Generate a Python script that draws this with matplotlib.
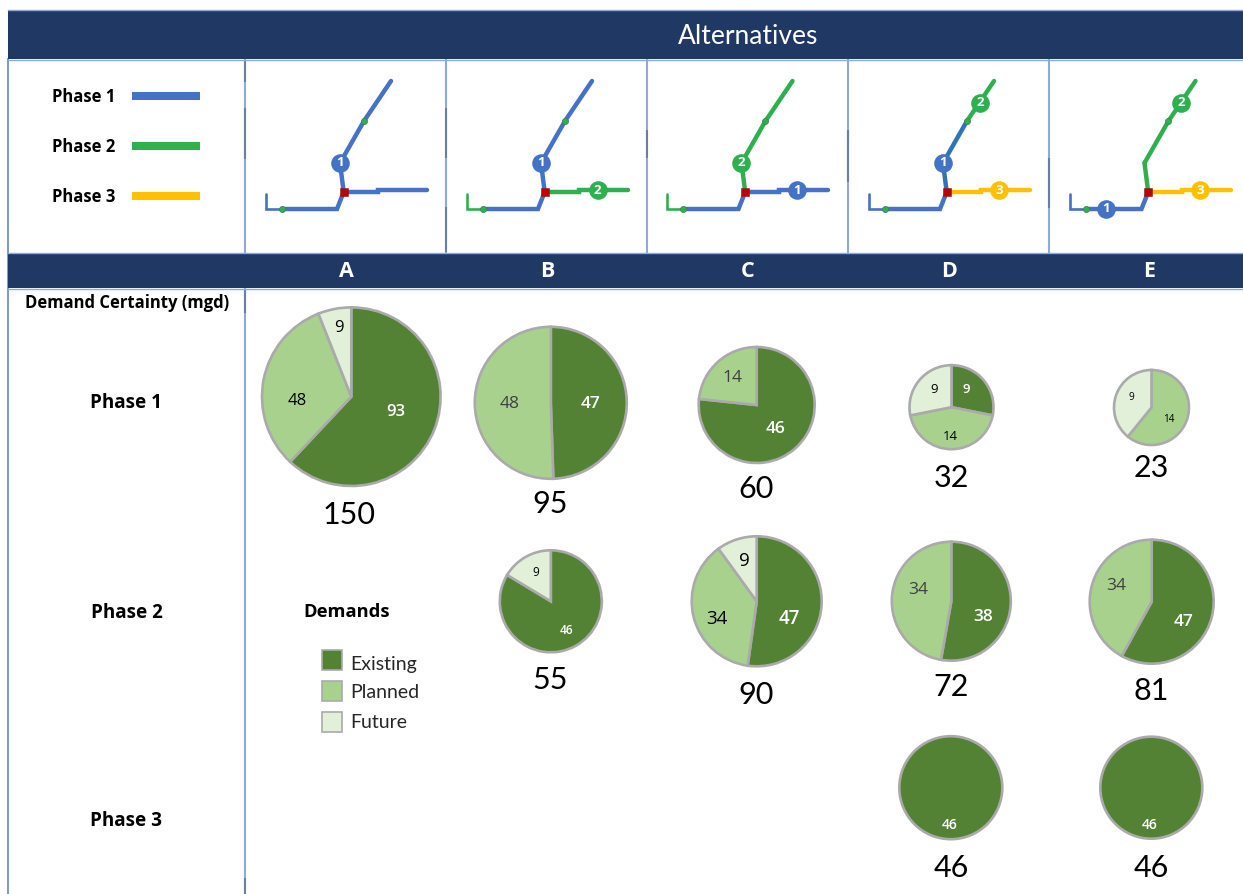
import matplotlib
matplotlib.use('Agg')
import matplotlib.pyplot as plt
from matplotlib.patches import Rectangle

W, H = 1243, 894

alternatives = ['A', 'B', 'C', 'D', 'E']
phases = ['Phase 1', 'Phase 2', 'Phase 3']
demand_types = ['Existing', 'Planned', 'Future']

# demand in mgd, one value per alternative
existing_p1 = [93, 47, 46, 9, 0]
planned_p1 = [48, 48, 14, 14, 14]
future_p1 = [9, 0, 0, 9, 9]
totals_p1 = [150, 95, 60, 32, 23]

existing_p2 = [0, 46, 47, 38, 47]
planned_p2 = [0, 0, 34, 34, 34]
future_p2 = [0, 9, 9, 0, 0]
totals_p2 = [0, 55, 90, 72, 81]

existing_p3 = [0, 0, 0, 46, 46]
planned_p3 = [0, 0, 0, 0, 0]
future_p3 = [0, 0, 0, 0, 0]
totals_p3 = [0, 0, 0, 46, 46]

NAVY = '#1f3864'
GRID = '#8eaadb'
GRID_DARK = '#6d7f9f'
BLUE = '#4472c4'
DEEP = '#2e75b6'
GREEN = '#2fb04f'
YELLOW = '#ffc000'
RED = '#c00000'
PIE_COLORS = ['#548235', '#a9d18e', '#e2f0d9']
PIE_EDGE = '#aaaaaa'
GREY = '#404040'

plt.rcParams['font.family'] = ['Lato', 'DejaVu Sans']
BOLD = ['Open Sans', 'DejaVu Sans']

# pie placement: (x, y, radius, y of the total, x of the total) in pixels
pie_layout = {
    (0, 0): (351.3, 396.7, 89.3, 515, 349),
    (0, 1): (550.8, 402.8, 76, 504, 550),
    (0, 2): (756.7, 405, 58, 489, 756),
    (0, 3): (951.5, 407.2, 42, 478, 951),
    (0, 4): (1151.5, 407.5, 37.5, 468, 1151),
    (1, 1): (550.8, 601.3, 51, 680, 550),
    (1, 2): (756.7, 601.3, 65, 695, 756),
    (1, 3): (951.3, 601.2, 59.5, 687, 951),
    (1, 4): (1151.7, 601.7, 62, 691, 1151),
    (2, 3): (950.8, 787.7, 51.5, 868, 951),
    (2, 4): (1151.3, 787.7, 51, 868, 1151),
}

# slice label placement per pie: (x, y, colour, size) for existing, planned, future
label_layout = {
    (0, 0): [(396, 411.5, 'white', 12), (297, 401, 'black', 12), (339, 328, 'black', 12)],
    (0, 1): [(590.7, 403.5, 'white', 12.5), (510, 403.5, GREY, 12.5), None],
    (0, 2): [(776, 429, 'white', 12.5), (732.7, 378, GREY, 12.5), None],
    (0, 3): [(966.7, 389.5, 'white', 9.5), (950.7, 436, 'black', 9.5), (933.7, 389.5, 'black', 9.5)],
    (0, 4): [None, (1169, 420, 'black', 7.2), (1131.7, 397, 'black', 7.2)],
    (1, 1): [(567, 631, 'white', 8.6), None, (535.7, 573, 'black', 8.6)],
    (1, 2): [(789.7, 618.7, 'white', 13.5), (717, 618.7, 'black', 13.5), (744, 561, 'black', 13.5)],
    (1, 3): [(983, 617, 'white', 12.5), (918, 589.7, GREY, 12.5), None],
    (1, 4): [(1183.7, 621.7, 'white', 12.5), (1116, 586, GREY, 12.5), None],
    (2, 3): [(950, 825, 'white', 10), None, None],
    (2, 4): [(1150, 825, 'white', 10), None, None],
}

# horizontal shift of each network panel against panel A
panel_offsets = [0, 201, 401.5, 603, 804.5]

north_upper = [(364, 121), (391, 81)]
north_lower = [(340, 163), (364, 121)]
stem = [(343.7, 192), (340, 163)]
southwest = [(343.7, 192), (337, 209), (282, 209)]
west_end = [(282, 209), (265.7, 209), (265.7, 194)]
east = [(343.7, 192), (378, 192), (378, 190), (426.7, 190)]

north_upper_colors = [BLUE, BLUE, GREEN, GREEN, GREEN]
north_lower_colors = [BLUE, BLUE, GREEN, DEEP, GREEN]
stem_colors = [BLUE, BLUE, GREEN, DEEP, GREEN]
southwest_colors = [BLUE, BLUE, BLUE, BLUE, BLUE]
west_end_colors = [BLUE, GREEN, GREEN, BLUE, BLUE]
east_colors = [BLUE, GREEN, BLUE, YELLOW, YELLOW]

# numbered badges per panel: (phase number, x, y) in panel A coordinates
badges = [
    [(1, 340, 163)],
    [(1, 340, 163), (2, 396.7, 190)],
    [(2, 340, 163), (1, 396, 190)],
    [(1, 340, 163), (2, 377, 103), (3, 396, 190)],
    [(2, 377, 103), (3, 396, 190), (1, 302, 209)],
]
badge_colors = {1: BLUE, 2: GREEN, 3: YELLOW}
valve_points = [(364, 121), (282, 209)]

# darker stretches of the column rules: x, then (top, bottom) runs
dark_rules = {
    245: [(60, 82), (108, 159), (289, 313), (878, 894)],
    446: [(108, 158), (207, 252)],
    647: [(130, 158)],
    848: [(130, 182)],
    1049: [(158, 208)],
}


def flip(y):
    # layout is in pixels from the top, the axes run upward
    return H - y


def draw_path(ax, pts, dx, color, lw):
    xs = [p[0] + dx for p in pts]
    ys = [flip(p[1]) for p in pts]
    ax.plot(xs, ys, color=color, lw=lw, solid_capstyle='round', solid_joinstyle='miter', zorder=3)


fig = plt.figure(figsize=(W / 100, H / 100), dpi=100)
ax = fig.add_axes([0, 0, 1, 1])

# pies first, since ax.pie resets the limits
all_existing = [existing_p1, existing_p2, existing_p3]
all_planned = [planned_p1, planned_p2, planned_p3]
all_future = [future_p1, future_p2, future_p3]
all_totals = [totals_p1, totals_p2, totals_p3]

for (row, col), (cx, cy, r, total_y, total_x) in pie_layout.items():
    values = [all_existing[row][col], all_planned[row][col], all_future[row][col]]
    shown = [v for v in values if v > 0]
    colors = [c for v, c in zip(values, PIE_COLORS) if v > 0]
    ax.pie(shown, colors=colors, center=(cx, flip(cy)), radius=r, startangle=90, counterclock=False,
           wedgeprops={'edgecolor': PIE_EDGE, 'linewidth': 1.9})
    for v, lab in zip(values, label_layout[(row, col)]):
        if lab is None:
            continue
        ax.text(lab[0], flip(lab[1]), str(v), color=lab[2], fontsize=lab[3], family=BOLD,
                fontweight='semibold' if lab[2] == 'white' else 'normal', ha='center', va='center', zorder=5)
    ax.text(total_x, flip(total_y), str(all_totals[row][col]), fontsize=22, color='black',
            ha='center', va='center', zorder=5)

ax.set_xlim(0, W)
ax.set_ylim(0, H)
ax.set_aspect('auto')
ax.axis('off')

# header bands
ax.add_patch(Rectangle((8, flip(59)), W - 8, 49, facecolor=NAVY, edgecolor='none', zorder=2))
ax.add_patch(Rectangle((8, flip(288)), W - 8, 35, facecolor=NAVY, edgecolor='none', zorder=2))
for y in [9.5, 59.5, 252.5, 288.5]:
    ax.plot([8, W], [flip(y), flip(y)], color=GRID, lw=1, zorder=2)

# column rules
ax.plot([8.5, 8.5], [flip(59), 0], color='#7d97c9', lw=1.4, zorder=1)
ax.plot([245, 245], [flip(59), 0], color=GRID, lw=1.5, zorder=1)
for x in [446, 647, 848, 1049]:
    ax.plot([x, x], [flip(59), flip(253)], color=GRID, lw=1.5, zorder=1)
for x, runs in dark_rules.items():
    for top, bottom in runs:
        ax.plot([x, x], [flip(top), flip(bottom)], color=GRID_DARK, lw=1.5, solid_capstyle='butt', zorder=1)

ax.text(748, flip(36.5), 'Alternatives', color='white', fontsize=19, ha='center', va='center', zorder=4)
for x, name in zip([346, 547, 748, 949, 1149], alternatives):
    ax.text(x, flip(271.5), name, color='white', fontsize=15.5, family=BOLD, fontweight='bold',
            ha='center', va='center', zorder=4)

# phase line key
for y, name, color in zip([95.7, 146, 196], phases, [BLUE, GREEN, YELLOW]):
    ax.text(52, flip(y + 1), name, color='black', fontsize=12, family=BOLD, fontweight='bold', ha='left', va='center')
    ax.plot([132, 200], [flip(y), flip(y)], color=color, lw=5.8, solid_capstyle='butt')

ax.text(127.5, flip(302.5), 'Demand Certainty (mgd)', color='black', fontsize=12, family=BOLD, fontweight='bold',
        ha='center', va='center')
for y, name in zip([403.5, 612.5, 820.5], phases):
    ax.text(126.5, flip(y), name, color='black', fontsize=13.6, family=BOLD, fontweight='bold',
            ha='center', va='center')

# network schematics
for i, dx in enumerate(panel_offsets):
    draw_path(ax, north_upper, dx, north_upper_colors[i], 3.2)
    draw_path(ax, north_lower, dx, north_lower_colors[i], 3.2)
    draw_path(ax, stem, dx, stem_colors[i], 3.2)
    draw_path(ax, southwest, dx, southwest_colors[i], 3.2)
    draw_path(ax, west_end, dx, west_end_colors[i], 1.9)
    draw_path(ax, east, dx, east_colors[i], 3.2)
    for vx, vy in valve_points:
        ax.plot(vx + dx, flip(vy), marker='o', ms=4.4, mfc=GREEN, mec='#3f7f4f', mew=0.5, zorder=4)
    ax.plot(343.7 + dx, flip(192), marker='s', ms=5.3, mfc=RED, mec='#8a1a1a', mew=0.4, zorder=5)
    for num, bx, by in badges[i]:
        ax.plot(bx + dx, flip(by), marker='o', ms=13.4, mfc=badge_colors[num], mec='none', zorder=5)
        ax.text(bx + dx, flip(by), str(num), color='white', fontsize=9.5, family=BOLD, fontweight='bold',
                ha='center', va='center', zorder=6)

# demand key
ax.text(303, flip(612), 'Demands', color='black', fontsize=13.2, family=BOLD, fontweight='bold',
        ha='left', va='center')
for y, base, name, color in zip([650, 681, 712], [670, 698.5, 728.5], demand_types, PIE_COLORS):
    ax.add_patch(Rectangle((322, flip(y + 20)), 20, 20, facecolor=color, edgecolor=PIE_EDGE, lw=1.2, zorder=3))
    ax.text(350, flip(base), name, color='#262626', fontsize=14, ha='left', va='baseline')

fig.savefig('out.png', dpi=100)
